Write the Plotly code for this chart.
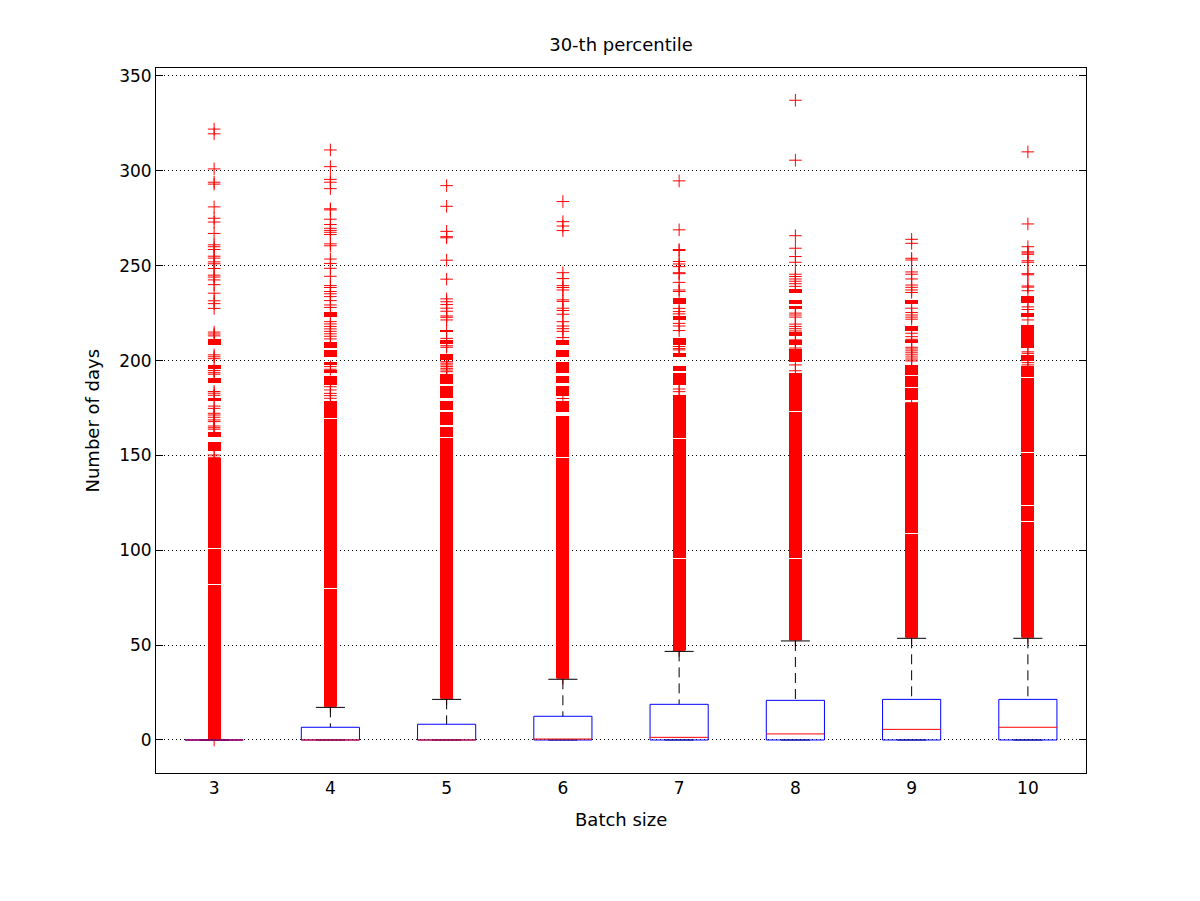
import plotly.graph_objects as go

# ---------------- data ----------------
batch_sizes = [3, 4, 5, 6, 7, 8, 9, 10]
x_tick_labels = ["3", "4", "5", "6", "7", "8", "9", "10"]
y_tick_values = [0, 50, 100, 150, 200, 250, 300, 350]

q1_values = [0, 0, 0, 0, 0, 0, 0, 0]
median_values = [0, 0, 0, 0.5, 1.4, 3.2, 5.6, 6.7]
q3_values = [0, 6.7, 8.3, 12.5, 18.8, 20.9, 21.4, 21.4]
lower_whisker = [0, 0, 0, 0, 0, 0, 0, 0]
upper_whisker = [0, 17.2, 21.4, 32.0, 46.7, 52.2, 53.6, 53.6]

# individual outliers ("+" markers)
outliers_b3 = [322, 319.5, 301, 294, 293, 281, 275, 273, 267, 261, 260, 258.5, 255, 254,
               252, 251, 248.5, 245, 244, 242.5, 240, 235.5, 231.5, 230, 227.5, 215, 214,
               213, 203, 202, 201, 194.7, 193.6, 192.8, 183.7, 182.8, 181.7, 176, 174.8,
               172.2, 171.3, 170.1, 168.7, 167.8, 165.5, 164.6, 163.8, 150.2, 149, 0]
outliers_b4 = [311, 302.2, 295.5, 294, 290.6, 280, 279.4, 274.5, 271.7, 269.7, 268.6, 267.6,
               266.4, 261.5, 260.5, 253.5, 251.2, 248.6, 244.4, 239.5, 238.5, 236.4, 235.2,
               233.7, 231.6, 229.3, 228, 220.5, 219.3, 218, 216.7, 215.4, 214.1, 212.8,
               211.4, 196.8, 195.4, 186.2, 184.5, 182.7, 181.5, 180.1, 17.7]
outliers_b5 = [292.2, 281.3, 268.1, 265.3, 264.7, 252.9, 242.9, 232.5, 231, 229.5, 227.6,
               226, 223.5, 222.8, 221.4, 215.7, 211.7, 207.8, 207, 199.4, 198.6, 197.7,
               196.8, 195.9, 195, 194.1, 21.9]
outliers_b6 = [283.8, 273.2, 270.9, 268.5, 246.3, 243.2, 239.5, 238.5, 237.2, 232, 231.2,
               227.6, 226.4, 224.4, 220.5, 218.2, 216.8, 215.4, 212.1, 180, 32.5]
outliers_b7 = [294.7, 268.9, 258.5, 258, 252.2, 250.9, 249.5, 246.3, 245.8, 241.2, 237.2,
               236.4, 227.5, 225.8, 224.6, 219.6, 218.2, 215.8, 207.4, 206.3, 205.6, 185,
               183.6, 47.2]
outliers_b8 = [337.2, 305.6, 265.8, 259.2, 254.8, 251.8, 245.5, 244.3, 243, 241.8, 240.5,
               239.1, 225, 224, 222.9, 219.2, 218, 216.8, 215.6, 210.9, 209.5, 206.6,
               197.7, 194.6, 52.7]
outliers_b9 = [263.9, 261.8, 253.9, 253, 246.7, 245.5, 243, 239.8, 238.6, 237.2, 235.9,
               227.6, 225.3, 224, 222.9, 221.8, 214.4, 212.6, 211.2, 207, 206.1, 205.1,
               204.1, 203, 201.9, 200.8, 199.8, 177.8, 54.1]
outliers_b10 = [310, 272, 260, 257.3, 256.7, 256, 252.6, 251.8, 245.8, 245.2, 239.3, 238.7,
                236.8, 228.3, 226.9, 221.4, 204.6, 203.8, 198.9, 197.7, 54.1]

# ranges where the outlier markers overlap into solid red runs (low, high)
bands_b3 = [(208.2, 211.2), (195.4, 197.7), (188, 190.6), (178.7, 180), (159.6, 162.5),
            (152.5, 157.3), (101.3, 148.8), (82.3, 100.8), (0, 81.8)]
bands_b4 = [(223.1, 225.7), (206.5, 209.8), (202, 205.6), (197.7, 199.3), (193.3, 195),
            (187.1, 191.9), (169.8, 178.7), (165.2, 169.3), (161, 164.8), (80.3, 160.5),
            (17.7, 79.8)]
bands_b5 = [(215.3, 216.3), (208.7, 210.8), (200.3, 203.5), (187.7, 192.9), (180.3, 186.6),
            (174, 178.7), (166, 173), (159.9, 165.1), (21.9, 159.4)]
bands_b6 = [(208.2, 210.9), (202, 205.6), (193.3, 199.4), (188, 192), (181.3, 186.6),
            (173, 178.7), (149.2, 170.8), (32.5, 148.7)]
bands_b7 = [(229.6, 232.8), (221.4, 223.5), (208.2, 211.8), (201.7, 204.2), (194.7, 197.2),
            (187, 193.5), (159.3, 181.9), (95.7, 158.8), (47.2, 95.2)]
bands_b8 = [(235.5, 237.7), (229.6, 231.9), (227.1, 228.8), (213.1, 214.9), (208.4, 210.9),
            (199, 206.1), (173.5, 193.3), (95.7, 173), (52.7, 95.2)]
bands_b9 = [(229.6, 231.9), (215.6, 218), (209.4, 210.9), (192.5, 197.7), (186, 192),
            (179.2, 185.3), (109.2, 177.4), (54.1, 108.7)]
bands_b10 = [(230.1, 234), (222.9, 225), (212.6, 218.7), (206.5, 212.3), (200, 203),
             (191.5, 197.2), (151.9, 191), (123.7, 151.4), (115.5, 123.2), (54.1, 115)]

outlier_lists = [outliers_b3, outliers_b4, outliers_b5, outliers_b6,
                 outliers_b7, outliers_b8, outliers_b9, outliers_b10]
band_lists = [bands_b3, bands_b4, bands_b5, bands_b6,
              bands_b7, bands_b8, bands_b9, bands_b10]

# ---------------- styling ----------------
BOX_HALF = 0.25
CAP_HALF = 0.125
BAND_WIDTH = 0.11
FONT = "DejaVu Sans"

fig = go.Figure()

# solid runs of overlapping outlier markers
bx, bbase, blen = [], [], []
for b, bands in zip(batch_sizes, band_lists):
    for lo, hi in bands:
        bx.append(b)
        bbase.append(lo)
        blen.append(hi - lo)
fig.add_trace(go.Bar(x=bx, base=bbase, y=blen, width=BAND_WIDTH,
                     marker=dict(color="rgb(255,0,0)", line=dict(width=0)),
                     showlegend=False, hoverinfo="skip"))

# individual outliers
ox, oy = [], []
for b, vals in zip(batch_sizes, outlier_lists):
    for v in vals:
        ox.append(b)
        oy.append(v)
fig.add_trace(go.Scatter(x=ox, y=oy, mode="markers",
                         marker=dict(symbol="cross-thin", size=9, color="rgb(255,0,0)",
                                     line=dict(color="rgb(255,0,0)", width=1)),
                         showlegend=False, hoverinfo="skip"))

# whiskers (dashed)
wx, wy = [], []
for b, lo, q1, q3, hi in zip(batch_sizes, lower_whisker, q1_values, q3_values, upper_whisker):
    wx += [b, b, None, b, b, None]
    wy += [hi, q3, None, q1, lo, None]
fig.add_trace(go.Scatter(x=wx, y=wy, mode="lines",
                         line=dict(color="black", width=1, dash="10px,6px"),
                         showlegend=False, hoverinfo="skip"))

# whisker caps
cx, cy = [], []
for b, lo, hi in zip(batch_sizes, lower_whisker, upper_whisker):
    cx += [b - CAP_HALF, b + CAP_HALF, None, b - CAP_HALF, b + CAP_HALF, None]
    cy += [hi, hi, None, lo, lo, None]
fig.add_trace(go.Scatter(x=cx, y=cy, mode="lines", line=dict(color="black", width=1),
                         showlegend=False, hoverinfo="skip"))

# boxes
rx, ry = [], []
for b, q1, q3 in zip(batch_sizes, q1_values, q3_values):
    rx += [b - BOX_HALF, b + BOX_HALF, b + BOX_HALF, b - BOX_HALF, b - BOX_HALF, None]
    ry += [q1, q1, q3, q3, q1, None]
fig.add_trace(go.Scatter(x=rx, y=ry, mode="lines", line=dict(color="rgb(0,0,255)", width=1),
                         showlegend=False, hoverinfo="skip"))

# medians
mx, my = [], []
for b, m in zip(batch_sizes, median_values):
    mx += [b - BOX_HALF, b + BOX_HALF, None]
    my += [m, m, None]
fig.add_trace(go.Scatter(x=mx, y=my, mode="lines", line=dict(color="rgb(255,0,0)", width=1),
                         showlegend=False, hoverinfo="skip"))

fig.update_layout(
    width=1200, height=901,
    margin=dict(l=156, r=114, t=68, b=128),
    paper_bgcolor="white", plot_bgcolor="white",
    barmode="overlay", bargap=0,
    font=dict(family=FONT, size=17, color="black"),
    title=dict(text="30-th percentile", x=0.5, xref="paper", xanchor="center",
               y=1 - 45 / 901, yref="container", yanchor="middle",
               font=dict(family=FONT, size=18, color="black")),
    xaxis=dict(range=[2.5, 10.5], tickvals=batch_sizes, ticktext=x_tick_labels,
               showgrid=False, zeroline=False, showline=True, mirror=True,
               linecolor="black", linewidth=1, ticks="",
               tickfont=dict(family=FONT, size=17, color="black")),
    yaxis=dict(range=[-17.4, 354.2], tickvals=y_tick_values,
               ticktext=[str(v) for v in y_tick_values],
               showgrid=True, gridcolor="black", gridwidth=1, griddash="1px,3px",
               zeroline=False, showline=True, mirror="ticks",
               linecolor="black", linewidth=1, ticks="inside", ticklen=7,
               tickcolor="black", tickwidth=1,
               tickfont=dict(family=FONT, size=17, color="black")),
    annotations=[
        dict(text="Batch size", x=0.5, xref="paper", y=0, yref="paper",
             yshift=-46, xanchor="center", yanchor="middle", showarrow=False,
             font=dict(family=FONT, size=18, color="black")),
        dict(text="Number of days", x=0, xref="paper", y=0.5, yref="paper",
             xshift=-64, xanchor="center", yanchor="middle", textangle=-90,
             showarrow=False, font=dict(family=FONT, size=18, color="black")),
    ],
)

fig.write_html("out.html")
